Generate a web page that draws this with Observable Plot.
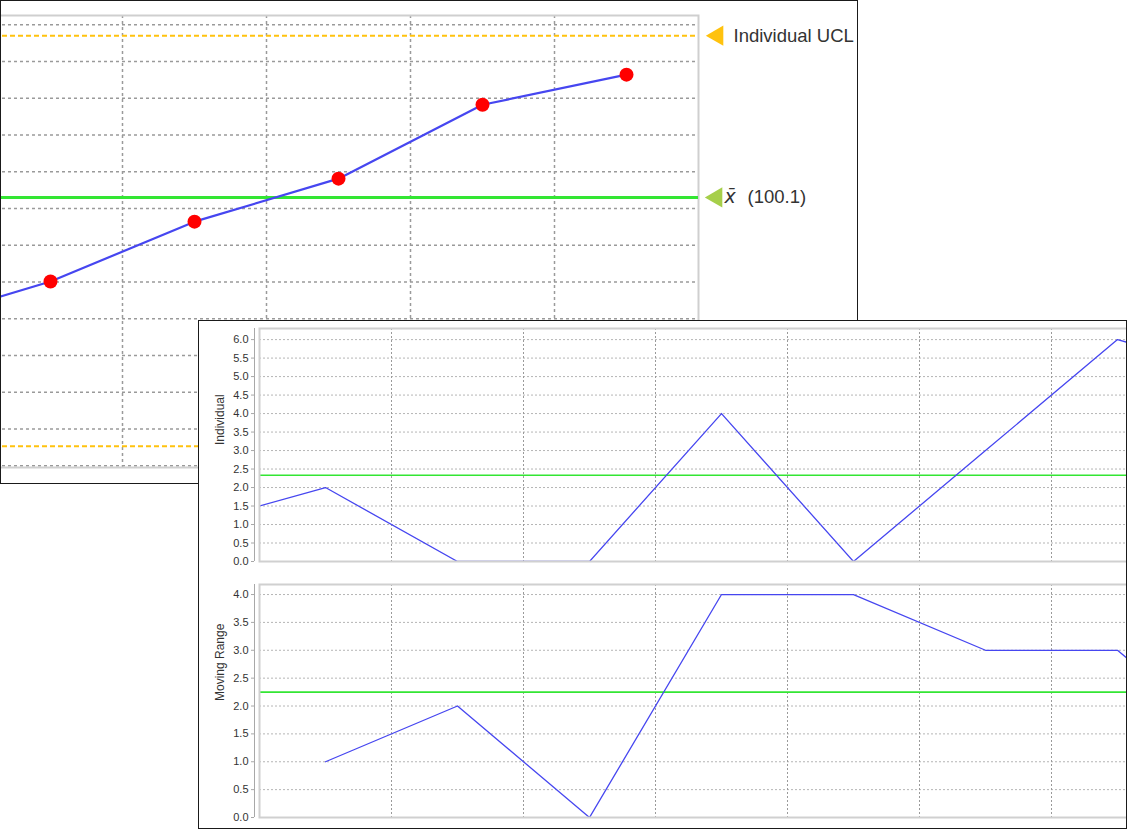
<!DOCTYPE html>
<html><head><meta charset="utf-8">
<script src="https://cdn.jsdelivr.net/npm/d3@7"></script>
<script src="https://cdn.jsdelivr.net/npm/@observablehq/plot@0.6"></script>
<style>
body{margin:0;background:#fff;font-family:"Liberation Sans",Arial,sans-serif}
.panel{position:absolute;box-sizing:border-box;border:1px solid #1a1a1a;background:#fff;overflow:hidden}
.panel svg{position:absolute;max-width:none !important}
</style></head><body>
<div id="back" class="panel" style="left:0;top:0;width:858px;height:484px"></div>
<div id="front" class="panel" style="left:198px;top:320px;width:929px;height:509px"></div>
<script>
// ---- back (zoomed individuals chart) ----
const backIndex = [-1, 0, 1, 2, 3, 4];
const backValues = [96.64, 97.81, 99.44, 100.61, 102.62, 103.44];
const backMean = 100.1;
const backUCL = 104.5;
const backLCL = 93.33;
const backGridY = [92.8, 93.8, 94.8, 95.8, 96.8, 97.8, 98.8, 99.8, 100.8, 101.8, 102.8, 103.8, 104.8];
const backGridX = [-0.5, 0.5, 1.5, 2.5, 3.5];
const uclLabel = "Individual UCL";
const meanSymbol = "x\u0304";
const meanLabel = "(100.1)";

// ---- front (Individual / Moving Range) ----
const indivIndex = [0, 1, 2, 3, 4, 5, 6, 7, 8];
const indivValues = [1, 2, 0, 0, 4, 0, 3, 6, 5];
const indivMean = 2.333;
const mrIndex = [1, 2, 3, 4, 5, 6, 7, 8];
const mrValues = [1, 2, 0, 4, 4, 3, 3, 1];
const mrMean = 2.25;
const indivTicks = [0, 0.5, 1, 1.5, 2, 2.5, 3, 3.5, 4, 4.5, 5, 5.5, 6];
const mrTicks = [0, 0.5, 1, 1.5, 2, 2.5, 3, 3.5, 4];
const frontGridX = [1.5, 2.5, 3.5, 4.5, 5.5, 6.5, 7.5];
const indivLabel = "Individual";
const mrLabel = "Moving Range";

const backData = backIndex.map((x, i) => ({x, y: backValues[i]}));
const indivData = indivIndex.map((x, i) => ({x, y: indivValues[i]}));
const mrData = mrIndex.map((x, i) => ({x, y: mrValues[i]}));

const BLUE = "#4646f0", GREEN = "#33e633", YELLOW = "#ffc20e", TRI_GREEN = "#a6cf4a";

function place(svg, left, top, w, h) {
  svg.style.left = left + "px";
  svg.style.top = top + "px";
  svg.style.width = w + "px";
  svg.style.height = h + "px";
  svg.style.maxWidth = "none";
  svg.style.overflow = "visible";
  return svg;
}

// back chart
const back = Plot.plot({
  width: 957, height: 483,
  marginLeft: 37, marginRight: 200, marginTop: 15, marginBottom: 16,
  x: {domain: [-0.5, 4.5], axis: null},
  y: {domain: [92.75, 105.05], axis: null},
  style: {background: "transparent"},
  marks: [
    Plot.ruleY(backGridY, {stroke: "#9a9a9a", strokeWidth: 1.5, strokeDasharray: "3,3"}),
    Plot.ruleX(backGridX, {stroke: "#9a9a9a", strokeWidth: 1.5, strokeDasharray: "3,3"}),
    Plot.frame({stroke: "#cfcfcf", strokeWidth: 2}),
    Plot.ruleY([backUCL, backLCL], {stroke: YELLOW, strokeWidth: 2, strokeDasharray: "5,3"}),
    Plot.ruleY([backMean], {stroke: GREEN, strokeWidth: 3}),
    Plot.line(backData, {x: "x", y: "y", stroke: BLUE, strokeWidth: 2.2, clip: true}),
    Plot.dot(backData, {x: "x", y: "y", r: 7, fill: "#ff0000", clip: true}),
    Plot.dot([backUCL], {x: 4.5, y: d => d, symbol: "triangle", rotate: -90, r: 7.5, dx: 19, fill: YELLOW}),
    Plot.dot([backMean], {x: 4.5, y: d => d, symbol: "triangle", rotate: -90, r: 7.5, dx: 18, fill: TRI_GREEN}),
    Plot.text([backUCL], {x: 4.5, y: d => d, text: () => uclLabel, dx: 35, textAnchor: "start", fontSize: 18.5, fill: "#333", fontFamily: "Liberation Sans, Arial, sans-serif"}),
    Plot.text([backMean], {x: 4.5, y: d => d, text: () => meanSymbol, dx: 26, textAnchor: "start", fontSize: 19, fontStyle: "italic", fill: "#333", fontFamily: "DejaVu Sans, sans-serif"}),
    Plot.text([backMean], {x: 4.5, y: d => d, text: () => meanLabel, dx: 49, textAnchor: "start", fontSize: 18.5, fill: "#333", fontFamily: "Liberation Sans, Arial, sans-serif"})
  ]
});
document.getElementById("back").appendChild(place(back, -60, -1, 957, 483));

function subplot(data, mean, ticks, domainMax, label, height, marginTop) {
  return Plot.plot({
    width: 1004, height,
    marginLeft: 60, marginRight: 20, marginTop, marginBottom: 8,
    x: {domain: [0.5, 7.5], axis: null},
    y: {domain: [0, domainMax], axis: null},
    style: {background: "transparent", overflow: "visible"},
    marks: [
      Plot.ruleY(ticks, {stroke: "#b5b5b5", strokeWidth: 1, strokeDasharray: "2,2"}),
      Plot.ruleX(frontGridX, {stroke: "#9a9a9a", strokeWidth: 1, strokeDasharray: "2,2"}),
      Plot.ruleX([0.5], {dx: -5, stroke: "#a8a8a8", strokeWidth: 1}),
      Plot.axisY(ticks, {anchor: "left", tickFormat: d3.format(".1f"), tickSize: 3, tickPadding: 3, dx: -5, fontSize: 11, fill: "#333", stroke: "#a8a8a8", label: null, fontFamily: "Liberation Sans, Arial, sans-serif"}),
      Plot.ruleY([mean], {stroke: GREEN, strokeWidth: 1.6}),
      Plot.line(data, {x: "x", y: "y", stroke: BLUE, strokeWidth: 1.3, clip: true}),
      Plot.frame({stroke: "#d0d0d0", strokeWidth: 2}),
      Plot.text([label], {frameAnchor: "left", rotate: -90, dx: -39, fontSize: 12, fill: "#333", fontFamily: "Liberation Sans, Arial, sans-serif"})
    ]
  });
}

const front = document.getElementById("front");
const indiv = subplot(indivData, indivMean, indivTicks, 6.3, indivLabel, 248, 7);
front.appendChild(place(indiv, 0, 0, 1004, 248));
const mr = subplot(mrData, mrMean, mrTicks, 4.18, mrLabel, 259, 18);
front.appendChild(place(mr, 0, 245, 1004, 259));
</script>
</body></html>
